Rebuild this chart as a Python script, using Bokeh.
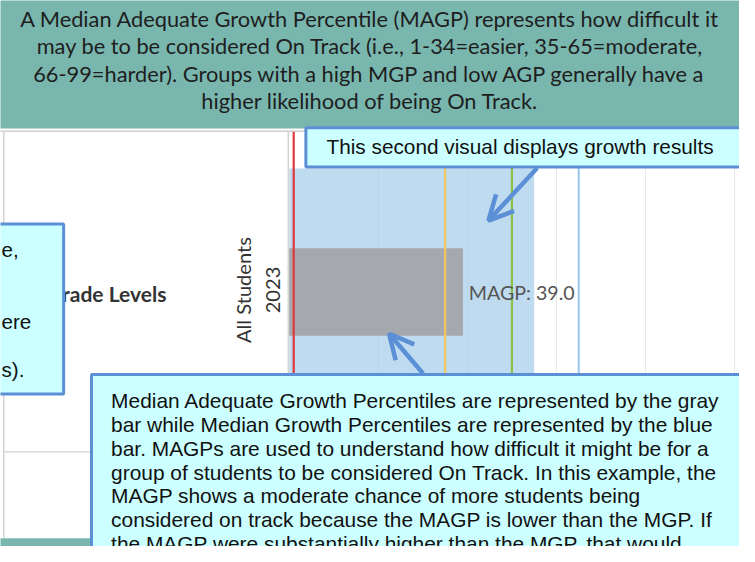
from bokeh.plotting import figure
from bokeh.models import Range1d, Arrow, OpenHead
from bokeh.core.properties import value
from bokeh.embed import file_html
from bokeh.resources import INLINE

# ---------------- data ----------------
groups = ["All Students"]
years = ["2023"]
row_label = ["All Grade Levels"]
mgp = [55.0]          # Median Growth Percentile (blue bar)
magp = [39.0]         # Median Adequate Growth Percentile (gray bar)
ref_values = [1, 35, 50, 65]
grid_values = [20, 40, 60, 80, 100]

header_lines = [
    "A Median Adequate Growth Percentile (MAGP) represents how difficult it",
    "may be to be considered On Track (i.e., 1-34=easier, 35-65=moderate,",
    "66-99=harder). Groups with a high MGP and low AGP generally have a",
    "higher likelihood of being On Track.",
]
top_note = ["This second visual displays growth results"]
left_note_tails = ["e,", "ere", "s)."]
bottom_note = [
    "Median Adequate Growth Percentiles are represented by the gray",
    "bar while Median Growth Percentiles are represented by the blue",
    "bar. MAGPs are used to understand how difficult it might be for a",
    "group of students to be considered On Track. In this example, the",
    "MAGP shows a moderate chance of more students being",
    "considered on track because the MAGP is lower than the MGP. If",
    "the MAGP were substantially higher than the MGP, that would",
]

# ---------------- styles / layout ----------------
ref_colors = ["#e0393e", "#f2c75c", "#8cbf45", "#9fcbeb"]
TEAL = "#79b6ae"
BOX_FILL = "#ccffff"
BOX_LINE = "#5b8fd6"
ZERO_PX = 295.0
PX_PER_UNIT = 4.55
W, H = 755, 562
FW, FH = 739, 546
S = FW / W


def fs(px):
    return f"{px * S:.1f}px"


p = figure(width=FW, height=FH, x_range=Range1d(0, W), y_range=Range1d(H, 0),
           output_backend="svg", toolbar_location=None, min_border=0,
           outline_line_color=None)
p.axis.visible = False
p.grid.visible = False
p.background_fill_color = "white"
p.border_fill_color = "white"
p.extra_x_ranges = {"val": Range1d((0 - ZERO_PX) / PX_PER_UNIT, (W - ZERO_PX) / PX_PER_UNIT)}

# header band
p.quad(left=[-10], right=[770], top=[-10], bottom=[131.7], fill_color=TEAL, line_color=None)
hdr_y = [18.3 + 28.3 * i for i in range(len(header_lines))]
p.text(x=[377.5] * len(header_lines), y=hdr_y, text=header_lines,
       text_font=value("Lato"), text_font_size=fs(22.3), text_color="#1e1e1e",
       text_align="center", text_baseline="middle")

# chart frame lines
p.segment(x0=[-5], x1=[770], y0=[134.5], y1=[134.5], line_color="#d0d0d0", line_width=1.5)
p.segment(x0=[3.3, 294], x1=[3.3, 294], y0=[135, 135], y1=[553, 553], line_color="#d4d4d4", line_width=1.5)
p.segment(x0=[3], x1=[294], y0=[464.5], y1=[464.5], line_color="#d9d9d9", line_width=1.5)
p.quad(left=[-10], right=[770], top=[553.5], bottom=[600], fill_color=TEAL, line_color=None)

# gridlines
p.segment(x0=grid_values, x1=grid_values, y0=135, y1=553, x_range_name="val",
          line_color="#e8e8e8", line_width=1)

# bars
p.hbar(y=[300], left=0, right=mgp, height=254, x_range_name="val",
       fill_color="#a9cfea", fill_alpha=0.75, line_color=None)
p.hbar(y=[300], left=0, right=magp, height=90, x_range_name="val",
       fill_color="#a5a9ae", line_color=None)

# reference lines
p.segment(x0=ref_values, x1=ref_values, y0=135, y1=553, x_range_name="val",
          line_color=ref_colors, line_width=2.2)

# labels
p.text(x=magp, y=[301], text=[f"MAGP: {m:.1f}" for m in magp], x_offset=6 * S, x_range_name="val",
       text_font=value("Lato"), text_font_size=fs(20), text_color="#555555",
       text_align="left", text_baseline="middle")
p.text(x=[248], y=[298], text=groups, angle=1.5708,
       text_font=value("Lato"), text_font_size=fs(20.5), text_color="#333333",
       text_align="center", text_baseline="middle")
p.text(x=[278.5], y=[298], text=years, angle=1.5708,
       text_font=value("Lato"), text_font_size=fs(20.5), text_color="#333333",
       text_align="center", text_baseline="middle")
p.text(x=[169.5], y=[301.5], text=row_label,
       text_font=value("Lato"), text_font_size=fs(21.5), text_font_style="bold",
       text_color="#333333", text_align="right", text_baseline="middle")

# left note box
p.quad(left=[-20], right=[64.5], top=[230], bottom=[405], fill_color=BOX_FILL,
       line_color=BOX_LINE, line_width=3)
p.text(x=[1, 1, 1], y=[257, 330.5, 379.5], text=left_note_tails,
       text_font=value("Liberation Sans"), text_font_size=fs(21), text_color="#111111",
       text_align="left", text_baseline="middle")

# top note box
p.quad(left=[312], right=[780], top=[131], bottom=[171.5], fill_color=BOX_FILL,
       line_color=BOX_LINE, line_width=3)
p.text(x=[333], y=[150.5], text=top_note,
       text_font=value("Liberation Sans"), text_font_size=fs(21.3), text_color="#111111",
       text_align="left", text_baseline="middle")

# bottom note box
p.quad(left=[93], right=[780], top=[385], bottom=[620], fill_color=BOX_FILL,
       line_color=BOX_LINE, line_width=3)
bn_y = [412 + 24.5 * i for i in range(len(bottom_note))]
p.text(x=[113] * len(bottom_note), y=bn_y, text=bottom_note,
       text_font=value("Liberation Sans"), text_font_size=fs(21.4), text_color="#111111",
       text_align="left", text_baseline="middle")

# arrows
for xs, ys, xe, ye in [(548.3, 172.5, 498.5, 226.5), (431.7, 384, 397, 343)]:
    p.add_layout(Arrow(x_start=xs, y_start=ys, x_end=xe, y_end=ye, line_color=BOX_LINE,
                       line_width=4.5,
                       end=OpenHead(size=25 * S, line_color=BOX_LINE, line_width=4.5)))

open("out.html", "w").write(file_html(p, INLINE))
